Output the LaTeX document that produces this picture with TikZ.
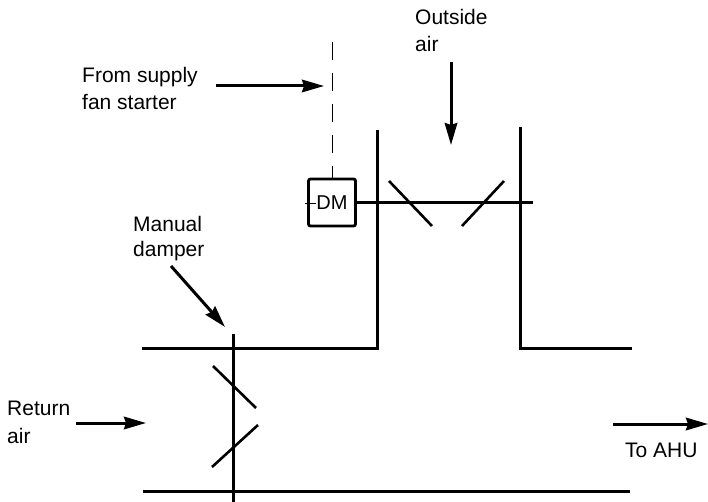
\documentclass[tikz,border=0pt]{standalone}
\usepackage{fontspec}
\setmainfont{Liberation Sans}
\usetikzlibrary{positioning, arrows.meta}
\begin{document}
\begin{tikzpicture}[
      x=1pt, y=-1pt,
      lbl/.style={anchor=base west, inner sep=0pt, align=left, font=\fontsize{21}{27}\selectfont},
      duct/.style={line width=3pt},
      blade/.style={line width=2.6pt},
      arrow/.style={-{Stealth[length=22pt, width=12.5pt, inset=2pt]}, line width=3pt},
      dampbox/.style={draw, line width=2.8pt, rounded corners=2pt, minimum width=47pt, minimum height=47pt, inner sep=0pt, font=\fontsize{20}{22}\selectfont},
    ]
    \useasboundingbox (0,0) rectangle (708,502);
    \node[dampbox] (dm) at (332,202.5) {DM};
    % Labels
    \node[lbl] (outside) at (415,25) {Outside};
    \node[lbl] (outsideair) at (415,52) {air};
    \node[lbl] (supply) at (82,83) {From supply};
    \node[lbl] (fan) at (82,110) {fan starter};
    \node[lbl] (manual) at (133,232) {Manual};
    \node[lbl] (damper) at (133,257) {damper};
    \node[lbl] (return) at (7,415) {Return};
    \node[lbl] (returnair) at (7,443) {air};
    \node[lbl] (ahu) at (625,457) {To AHU};
    % Ends of the lines
    \coordinate (dashtop) at (332.5,42);
    \coordinate (rodend) at (533,203);
    \coordinate (leftcorner) at (377,348);
    \coordinate (lefttop) at (377,130);
    \coordinate (rightcorner) at (520,348);
    \coordinate (righttop) at (520,127);
    \coordinate (topleft) at (142,348);
    \coordinate (topright) at (632,348);
    \coordinate (botleft) at (143,491);
    \coordinate (botright) at (630,491);
    \coordinate (mantop) at (233,334);
    \coordinate (manbot) at (233,502);
    % Duct
    \draw[duct, line join=miter] (topleft) -- (leftcorner) -- (lefttop);
    \draw[duct, line join=miter] (righttop) -- (rightcorner) -- (topright);
    \draw[duct] (botleft) -- (botright);
    % Dampers
    \draw[duct] (dm.east |- rodend) -- (rodend);
    \draw[line width=0.5pt] (305,203) -- (316,203);
    \draw[blade] (389,181) -- (432,226);
    \draw[blade] (504,181) -- (462,226);
    \draw[duct] (mantop) -- (manbot);
    \draw[blade] (213,366) -- (256,408);
    \draw[blade] (212,467) -- (258,425);
    \draw[line width=1.6pt, dash pattern=on 18pt off 13pt] (dashtop) -- (dm.north -| dashtop);
    % Arrows
    \draw[arrow] (216,86) -- (324,86);
    \draw[arrow] (451,62) -- (451,145);
    \draw[arrow] (171,266) -- (225,327);
    \draw[arrow] (76,423) -- (146,423);
    \draw[arrow] (613,424) -- (708,424);
  \end{tikzpicture}
\end{document}
